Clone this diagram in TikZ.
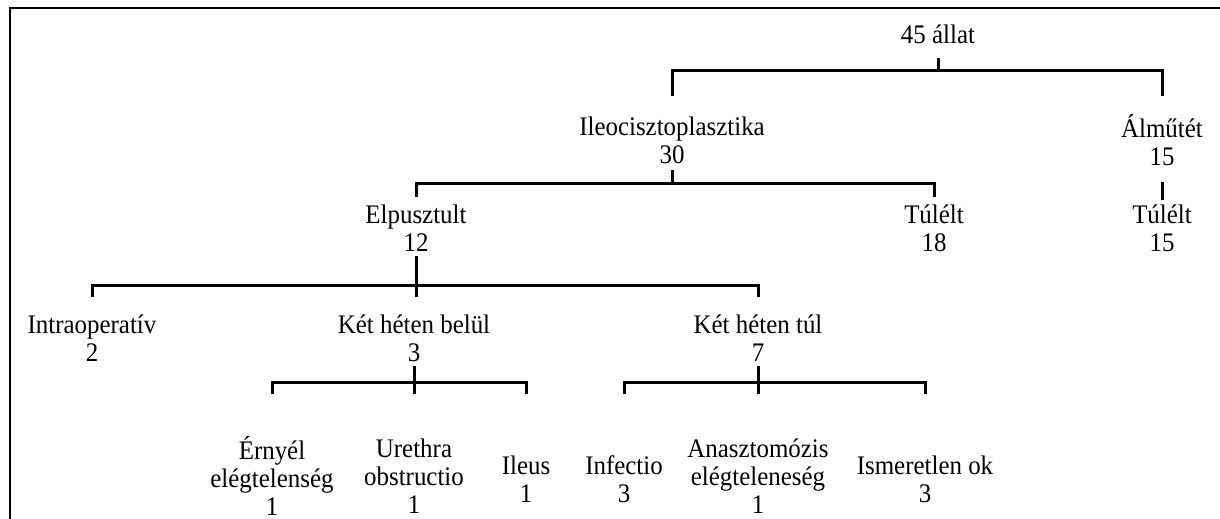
\documentclass[tikz,border=0pt]{standalone}
\usepackage{fontspec}
\setmainfont{Liberation Serif}[FakeStretch=0.93]
\usetikzlibrary{positioning}

\begin{document}
\begin{tikzpicture}[x=0.5pt,y=-0.5pt,
  lbl/.style={align=center,inner sep=0pt,font=\fontsize{13.4}{14}\selectfont},
  conn/.style={line width=1.5pt},
  frame/.style={line width=1pt}
]
\useasboundingbox (0,0) rectangle (1220,519);
\draw[frame] (10,519) -- (10,8) -- (1220,8);
\node[lbl] (root) at (938,34) {45 állat};
\node[lbl] (ileo) at (672,140) {Ileocisztoplasztika\\30};
\node[lbl] (alm) at (1162,140) {Álműtét\\15};
\node[lbl] (elp) at (416,228) {Elpusztult\\12};
\node[lbl] (tul) at (934,228) {Túlélt\\18};
\node[lbl] (almtul) at (1162,228) {Túlélt\\15};
\node[lbl] (intra) at (92,338) {Intraoperatív\\2};
\node[lbl] (belul) at (414,338) {Két héten belül\\3};
\node[lbl] (tulk) at (758,338) {Két héten túl\\7};
\node[lbl] (ernyel) at (272,476) {Érnyél\\elégtelenség\\1};
\node[lbl] (urethra) at (414,476) {Urethra\\obstructio\\1};
\node[lbl] (ileus) at (526,479) {Ileus\\1};
\node[lbl] (infect) at (624,479) {Infectio\\3};
\node[lbl] (anaszt) at (758,476) {Anasztomózis\\elégteleneség\\1};
\node[lbl] (ismer) at (925,479) {Ismeretlen ok\\3};
\coordinate (b1) at (938,71);
\coordinate (b2) at (672,183);
\coordinate (b3) at (416,285);
\coordinate (b4) at (414,382);
\coordinate (b5) at (758,382);
\draw[conn] (root |- 0,58) -- (b1);
\draw[conn] (ileo |- 0,96) |- (b1) -| (alm |- 0,96);
\draw[conn] (ileo |- 0,170) -- (b2);
\draw[conn] (elp |- 0,197) |- (b2) -| (tul |- 0,197);
\draw[conn] (alm |- 0,182) -- (almtul |- 0,200);
\draw[conn] (elp |- 0,256) -- (elp |- 0,297);
\draw[conn] (intra |- 0,297) |- (b3) -| (tulk |- 0,297);
\draw[conn] (belul |- 0,366) -- (urethra |- 0,394);
\draw[conn] (ernyel |- 0,394) |- (b4) -| (ileus |- 0,394);
\draw[conn] (tulk |- 0,366) -- (anaszt |- 0,394);
\draw[conn] (infect |- 0,394) |- (b5) -| (ismer |- 0,394);
\end{tikzpicture}
\end{document}
